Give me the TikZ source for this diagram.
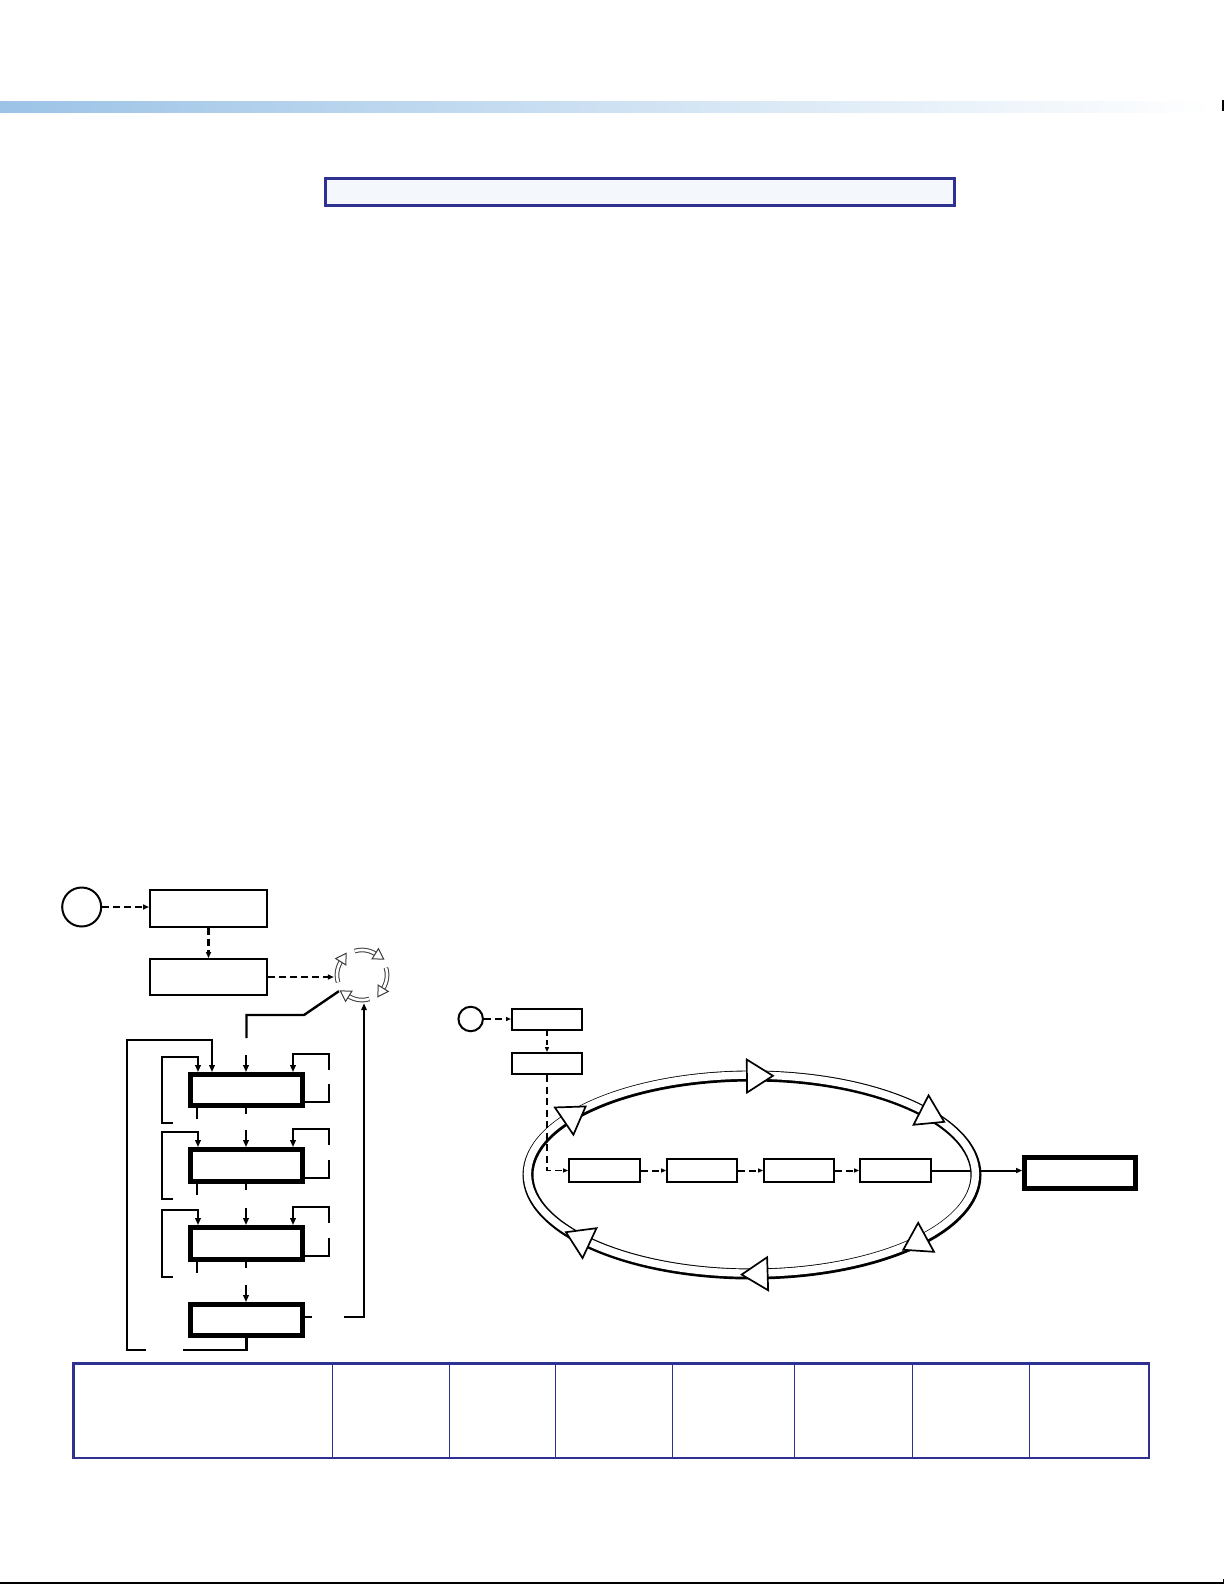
\documentclass[tikz,border=0pt]{standalone}
\usetikzlibrary{arrows.meta,calc}
\definecolor{frameblue}{HTML}{2E3192}
\definecolor{titlefill}{HTML}{F4F8FD}
\definecolor{barleft}{HTML}{9CC3E6}
\definecolor{barmid}{HTML}{D4E3F4}
\definecolor{icongray}{HTML}{3C3C3C}
\begin{document}
\begin{tikzpicture}[x=1pt,y=-1pt,line join=miter,
  flowbox/.style={draw, line width=2pt, inner sep=0pt, fill=white},
  heavybox/.style={draw, line width=4.8pt, inner sep=0pt, fill=white},
  smallbox/.style={draw, line width=1.8pt, inner sep=0pt, fill=white},
  startcircle/.style={draw, circle, line width=2pt, inner sep=0pt},
  link/.style={line width=2.4pt},
  linkarrow/.style={link, -{Triangle[length=7pt,width=5.5pt]}},
  dasharrow/.style={line width=2.5pt, dash pattern=on 7pt off 4pt, -{Triangle[length=6pt,width=5pt]}},
  dashsmall/.style={line width=2pt, dash pattern=on 7pt off 4.5pt, -{Triangle[length=5pt,width=4pt]}},
  solidsmall/.style={line width=2pt, -{Triangle[length=6pt,width=5pt]}},
  ringhead/.style={draw, fill=white, line width=1.7pt},
  iconhead/.style={draw=icongray, fill=white, line width=1pt},
  tablebox/.style={draw=frameblue, line width=2.5pt, inner sep=0pt},
  titlebox/.style={draw=frameblue, line width=3pt, fill=titlefill, inner sep=0pt}]
\useasboundingbox (0,0) rectangle (1225,1585);

% top bar and page rules
\shade[left color=barleft, middle color=barmid, right color=white] (0,101) rectangle (1215,112);
\draw[line width=1.5pt] (1223,100) -- (1223,111);
\draw[line width=1.5pt] (0,1583) -- (1223.5,1583) -- (1223.5,1579);

% title box
\node[titlebox, minimum width=629pt, minimum height=27pt] (title) at (640,192) {};

% ---------- left flowchart ----------
\node[startcircle, minimum size=39pt] (s1) at (81.7,907) {};
\node[flowbox, minimum width=117pt, minimum height=37pt] (b1) at (208.5,908.5) {};
\node[flowbox, minimum width=117pt, minimum height=36pt] (b2) at (208.5,977) {};
\node[circle, minimum size=56pt, inner sep=0pt] (icon) at (362,975) {};

\node[heavybox, minimum width=112pt, minimum height=31pt] (A) at (246.5,1090) {};
\node[heavybox, minimum width=112pt, minimum height=32pt] (B) at (246.5,1165.5) {};
\node[heavybox, minimum width=112pt, minimum height=32pt] (C) at (246.5,1243.5) {};
\node[heavybox, minimum width=112pt, minimum height=31pt] (D) at (246.5,1320) {};

\draw[dasharrow] (s1.east) -- (s1.east -| b1.west);
\draw[dasharrow] (b1.south) -- (b2.north);
\draw[dasharrow] (b2.east) -- (b2.east -| icon.west);

% circular arrows icon
\foreach \s/\e in {163/212, 253/302, 343/392, 73/122}{
  \draw[icongray, line width=4.6pt] plot[domain=\s:\e, samples=25, smooth] ({362+25*cos(\x)},{975+25*sin(\x)});
  \draw[white, line width=2.6pt] plot[domain=\s:\e, samples=25, smooth] ({362+25*cos(\x)},{975+25*sin(\x)});
  \pgfmathsetmacro\px{362+25*cos(\e)}
  \pgfmathsetmacro\py{975+25*sin(\e)}
  \pgfmathsetmacro\cx{cos(\e)}
  \pgfmathsetmacro\sx{sin(\e)}
  \draw[iconhead] ({\px-10*\sx},{\py+10*\cx}) -- ({\px+6*\cx},{\py+6*\sx}) -- ({\px-6*\cx},{\py-6*\sx}) -- cycle;
}

% icon down to first heavy box
\coordinate (k1) at (304,1015);
\draw[link] (icon.215) -- (k1) -- (k1 -| A.north) -- ++(0,23);

% loops around heavy boxes A, B, C
\foreach \bx in {A,B,C}{
  \draw[linkarrow] ($(\bx.north)+(-0.5,-17)$) -- ($(\bx.north)+(-0.5,0)$);
  \draw[link] ($(\bx.south)+(-49.5,0)$) -- ($(\bx.south)+(-49.5,11)$);
  \draw[link] ($(\bx.south)+(-0.5,0)$) -- ($(\bx.south)+(-0.5,6)$);
  \draw[linkarrow] ($(\bx.south)+(-73.5,15)$) -- ($(\bx.south)+(-84.5,15)$) -- ($(\bx.north)+(-84.5,-15)$) -- ($(\bx.north)+(-48.5,-15)$) -- ($(\bx.north)+(-48.5,0)$);
  \draw[link] ($(\bx.south east)+(0,-6)$) -- ($(\bx.south east)+(24,-6)$) -- ($(\bx.south east)+(24,-24)$);
  \draw[linkarrow] ($(\bx.north east)+(24,-2)$) -- ($(\bx.north east)+(24,-18)$) -- ($(\bx.north)+(46.5,-18)$) -- ($(\bx.north)+(46.5,0)$);
}
\draw[linkarrow] ($(D.north)+(-0.5,-17)$) -- ($(D.north)+(-0.5,0)$);

% return from D to icon
\draw[link] ($(D.east)+(0,-3)$) -- ++(7,0);
\coordinate (r1) at (344,1317);
\coordinate (r2) at (364,1317);
\draw[linkarrow] (r1) -- (r2) -- (r2 |- icon.south);

% outer loop from D back to A
\coordinate (o1) at (183,1350);
\coordinate (o2) at (146,1350);
\coordinate (o3) at (127,1350);
\coordinate (o4) at (127,1040);
\coordinate (o5) at (212,1040);
\draw[link] (D.south) -- (D.south |- o1) -- (o1);
\draw[linkarrow] (o2) -- (o3) -- (o4) -- (o5) -- (o5 |- A.north);

% ---------- right diagram ----------
\node[startcircle, minimum size=24.5pt] (s2) at (470.7,1019) {};
\node[flowbox, minimum width=70pt, minimum height=21pt] (E) at (547,1019.5) {};
\node[flowbox, minimum width=70pt, minimum height=21pt] (F) at (547,1063.5) {};
\node[smallbox, minimum width=71pt, minimum height=23pt] (G) at (604.5,1170.5) {};
\node[smallbox, minimum width=70pt, minimum height=23pt] (H) at (702,1170.5) {};
\node[smallbox, minimum width=70pt, minimum height=23pt] (I) at (799,1170.5) {};
\node[smallbox, minimum width=71pt, minimum height=23pt] (J) at (895.5,1170.5) {};
\node[heavybox, minimum width=111pt, minimum height=31pt] (K) at (1080,1173) {};

\draw[solidsmall] (J.east) -- (J.east -| K.west);

% ring
\draw[line width=11pt] (752,1175) ellipse[x radius=224pt, y radius=99pt];
\draw[white, line width=7.4pt] ([shift={(-0.6,-0.9)}]752,1175) ellipse[x radius=224pt, y radius=99pt];
\foreach \t in {268.7,319,39,86,136.5,213}{
  \pgfmathsetmacro\px{752+224*cos(\t)}
  \pgfmathsetmacro\py{1175+99*sin(\t)}
  \pgfmathsetmacro\ux{-sin(\t)}
  \pgfmathsetmacro\uy{0.442*cos(\t)}
  \pgfmathsetmacro\nn{sqrt(\ux*\ux+\uy*\uy)}
  \pgfmathsetmacro\ex{\ux/\nn}
  \pgfmathsetmacro\ey{\uy/\nn}
  \draw[ringhead] ({\px+26*\ex},{\py+26*\ey}) -- ({\px-16.5*\ey},{\py+16.5*\ex}) -- ({\px+16.5*\ey},{\py-16.5*\ex}) -- cycle;
}
\node[smallbox, minimum width=71pt, minimum height=23pt] at (G) {};
\node[smallbox, minimum width=70pt, minimum height=23pt] at (H) {};
\node[smallbox, minimum width=70pt, minimum height=23pt] at (I) {};
\node[smallbox, minimum width=71pt, minimum height=23pt] at (J) {};

\draw[dashsmall] (s2.east) -- (s2.east -| E.west);
\draw[dashsmall, line width=1.6pt, dash pattern=on 5pt off 4pt] (E.south) -- (F.north);
\draw[dashsmall, line width=1.8pt] (F.south) -- (F.south |- G.west) -- (G.west);
\draw[dashsmall] (G.east) -- (H.west);
\draw[dashsmall] (H.east) -- (I.west);
\draw[dashsmall] (I.east) -- (J.west);

% ---------- table ----------
\node[tablebox, minimum width=1075.5pt, minimum height=94.5pt] (table) at (611,1410.5) {};
\foreach \xx in {332.5,449,555.5,672,794,912,1029}{
  \draw[frameblue, line width=1pt] (\xx,0 |- table.north) -- (\xx,0 |- table.south);
}
\end{tikzpicture}
\end{document}
